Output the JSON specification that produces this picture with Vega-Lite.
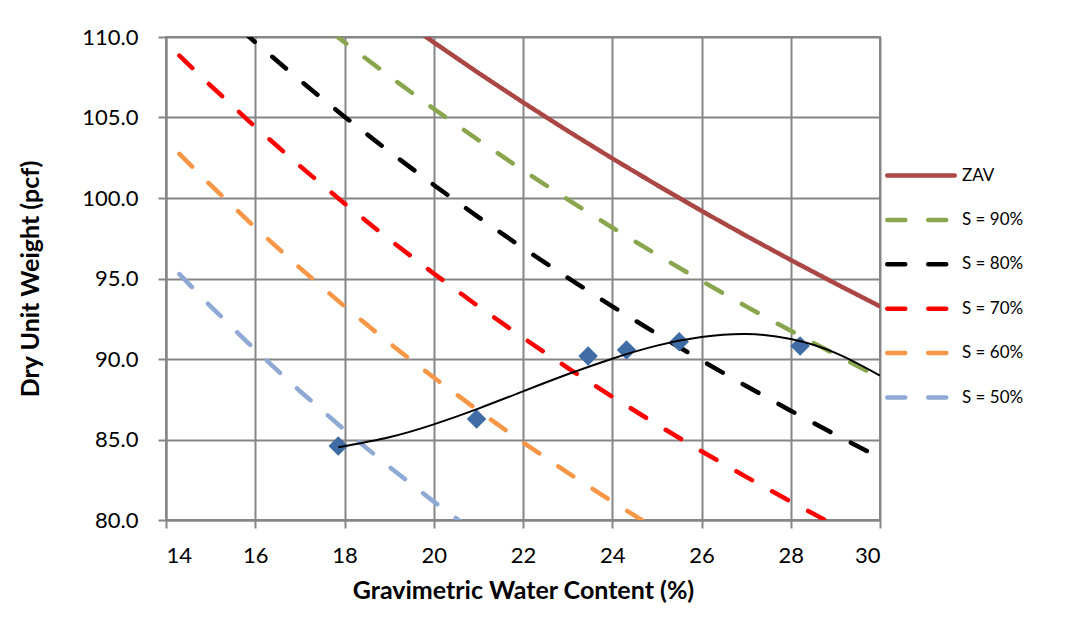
{
  "$schema": "https://vega.github.io/schema/vega-lite/v6.json",
  "width": 714,
  "height": 483,
  "autosize": {"type": "none"},
  "padding": {"left": 166, "top": 37, "right": 210, "bottom": 122},
  "background": "white",
  "datasets": {
    "lines": [
      {"s": "ZAV", "w": 19, "gd": 111.63}, {"s": "ZAV", "w": 20, "gd": 109.67}, {"s": "ZAV", "w": 21, "gd": 107.77}, {"s": "ZAV", "w": 22, "gd": 105.94}, {"s": "ZAV", "w": 23, "gd": 104.17}, {"s": "ZAV", "w": 24, "gd": 102.46}, {"s": "ZAV", "w": 25, "gd": 100.81}, {"s": "ZAV", "w": 26, "gd": 99.2}, {"s": "ZAV", "w": 27, "gd": 97.65}, {"s": "ZAV", "w": 28, "gd": 96.15}, {"s": "ZAV", "w": 29, "gd": 94.69}, {"s": "ZAV", "w": 30, "gd": 93.27},
      {"s": "S = 90%", "w": 17, "gd": 111.85}, {"s": "S = 90%", "w": 18, "gd": 109.67}, {"s": "S = 90%", "w": 19, "gd": 107.57}, {"s": "S = 90%", "w": 20, "gd": 105.54}, {"s": "S = 90%", "w": 21, "gd": 103.6}, {"s": "S = 90%", "w": 22, "gd": 101.72}, {"s": "S = 90%", "w": 23, "gd": 99.91}, {"s": "S = 90%", "w": 24, "gd": 98.16}, {"s": "S = 90%", "w": 25, "gd": 96.48}, {"s": "S = 90%", "w": 26, "gd": 94.85}, {"s": "S = 90%", "w": 27, "gd": 93.27}, {"s": "S = 90%", "w": 28, "gd": 91.75}, {"s": "S = 90%", "w": 29, "gd": 90.28}, {"s": "S = 90%", "w": 30, "gd": 88.85},
      {"s": "S = 80%", "w": 15, "gd": 112.13}, {"s": "S = 80%", "w": 16, "gd": 109.67}, {"s": "S = 80%", "w": 17, "gd": 107.31}, {"s": "S = 80%", "w": 18, "gd": 105.05}, {"s": "S = 80%", "w": 19, "gd": 102.89}, {"s": "S = 80%", "w": 20, "gd": 100.81}, {"s": "S = 80%", "w": 21, "gd": 98.81}, {"s": "S = 80%", "w": 22, "gd": 96.89}, {"s": "S = 80%", "w": 23, "gd": 95.05}, {"s": "S = 80%", "w": 24, "gd": 93.27}, {"s": "S = 80%", "w": 25, "gd": 91.56}, {"s": "S = 80%", "w": 26, "gd": 89.91}, {"s": "S = 80%", "w": 27, "gd": 88.32}, {"s": "S = 80%", "w": 28, "gd": 86.79}, {"s": "S = 80%", "w": 29, "gd": 85.3}, {"s": "S = 80%", "w": 30, "gd": 83.87},
      {"s": "S = 70%", "w": 14.3, "gd": 108.85}, {"s": "S = 70%", "w": 15, "gd": 106.98}, {"s": "S = 70%", "w": 16, "gd": 104.42}, {"s": "S = 70%", "w": 17, "gd": 101.99}, {"s": "S = 70%", "w": 18, "gd": 99.66}, {"s": "S = 70%", "w": 19, "gd": 97.43}, {"s": "S = 70%", "w": 20, "gd": 95.31}, {"s": "S = 70%", "w": 21, "gd": 93.27}, {"s": "S = 70%", "w": 22, "gd": 91.32}, {"s": "S = 70%", "w": 23, "gd": 89.45}, {"s": "S = 70%", "w": 24, "gd": 87.66}, {"s": "S = 70%", "w": 25, "gd": 85.93}, {"s": "S = 70%", "w": 26, "gd": 84.27}, {"s": "S = 70%", "w": 27, "gd": 82.68}, {"s": "S = 70%", "w": 28, "gd": 81.14}, {"s": "S = 70%", "w": 29, "gd": 79.66}, {"s": "S = 70%", "w": 30, "gd": 78.24},
      {"s": "S = 60%", "w": 14.3, "gd": 102.74}, {"s": "S = 60%", "w": 15, "gd": 100.81}, {"s": "S = 60%", "w": 16, "gd": 98.16}, {"s": "S = 60%", "w": 17, "gd": 95.66}, {"s": "S = 60%", "w": 18, "gd": 93.27}, {"s": "S = 60%", "w": 19, "gd": 91.0}, {"s": "S = 60%", "w": 20, "gd": 88.85}, {"s": "S = 60%", "w": 21, "gd": 86.79}, {"s": "S = 60%", "w": 22, "gd": 84.82}, {"s": "S = 60%", "w": 23, "gd": 82.94}, {"s": "S = 60%", "w": 24, "gd": 81.14}, {"s": "S = 60%", "w": 25, "gd": 79.42}, {"s": "S = 60%", "w": 26, "gd": 77.77},
      {"s": "S = 50%", "w": 14.3, "gd": 95.27}, {"s": "S = 50%", "w": 15, "gd": 93.27}, {"s": "S = 50%", "w": 16, "gd": 90.57}, {"s": "S = 50%", "w": 17, "gd": 88.01}, {"s": "S = 50%", "w": 18, "gd": 85.6}, {"s": "S = 50%", "w": 19, "gd": 83.31}, {"s": "S = 50%", "w": 20, "gd": 81.14}, {"s": "S = 50%", "w": 21, "gd": 79.09}, {"s": "S = 50%", "w": 22, "gd": 77.13}
    ],
    "points": [
      {"w": 17.86, "gd": 84.6}, {"w": 20.96, "gd": 86.27}, {"w": 23.46, "gd": 90.19}, {"w": 24.32, "gd": 90.56}, {"w": 25.5, "gd": 91.07}, {"w": 28.21, "gd": 90.81}
    ],
    "trend": [
      {"w": 17.86, "gd": 84.52}, {"w": 19, "gd": 85.14}, {"w": 20, "gd": 85.94}, {"w": 21, "gd": 86.92}, {"w": 22, "gd": 87.99}, {"w": 23, "gd": 89.05}, {"w": 24, "gd": 90.02}, {"w": 25, "gd": 90.83}, {"w": 26, "gd": 91.36}, {"w": 27, "gd": 91.55}, {"w": 28, "gd": 91.24}, {"w": 29, "gd": 90.38}, {"w": 30, "gd": 88.97}
    ]
  },
  "encoding": {
    "x": {
      "field": "w", "type": "quantitative",
      "scale": {"domain": [14, 30], "nice": false, "zero": false},
      "axis": {"values": [14, 16, 18, 20, 22, 24, 26, 28, 30], "title": "Gravimetric Water Content (%)", "titlePadding": 12, "labelPadding": 17}
    },
    "y": {
      "field": "gd", "type": "quantitative",
      "scale": {"domain": [80, 110], "nice": false, "zero": false},
      "axis": {"values": [80, 85, 90, 95, 100, 105, 110], "format": ".1f", "title": "Dry Unit Weight (pcf)", "titlePadding": 38, "labelPadding": 20}
    }
  },
  "layer": [
    {
      "data": {"name": "lines"},
      "mark": {"type": "line", "clip": true, "strokeWidth": 4.5, "strokeCap": "round"},
      "encoding": {
        "color": {
          "field": "s", "type": "nominal",
          "scale": {"domain": ["ZAV", "S = 90%", "S = 80%", "S = 70%", "S = 60%", "S = 50%"], "range": ["#AA4643", "#89A54E", "#000000", "#FF0000", "#F79646", "#8EA9D3"]},
          "legend": {"title": null, "symbolType": "M-3,0H3", "symbolSize": 506, "symbolStrokeWidth": 4.5, "labelOffset": 27.5, "rowPadding": 21.4, "legendX": 741.5, "legendY": 125, "encode": {"symbols": {"update": {"strokeCap": {"value": "round"}}}}}
        },
        "strokeDash": {
          "field": "s", "type": "nominal",
          "scale": {"domain": ["ZAV", "S = 90%", "S = 80%", "S = 70%", "S = 60%", "S = 50%"], "range": [[1, 0], [18, 23], [18, 23], [18, 23], [18, 23], [18, 23]]},
          "legend": {"title": null, "symbolType": "M-3,0H3", "symbolSize": 506, "symbolStrokeWidth": 4.5, "labelOffset": 27.5, "rowPadding": 21.4, "legendX": 741.5, "legendY": 125, "encode": {"symbols": {"update": {"strokeCap": {"value": "round"}}}}}
        }
      }
    },
    {
      "data": {"name": "points"},
      "mark": {"type": "point", "shape": "diamond", "filled": true, "size": 380, "color": "#3F6CA5", "opacity": 1}
    },
    {
      "data": {"name": "trend"},
      "mark": {"type": "line", "color": "#000000", "strokeWidth": 2, "interpolate": "natural", "clip": true}
    }
  ],
  "config": {
    "font": "Lato",
    "view": {"stroke": "#868686", "strokeWidth": 2},
    "axis": {
      "gridColor": "#868686", "gridWidth": 2, "gridOpacity": 1,
      "domainColor": "#868686", "domainWidth": 2,
      "tickColor": "#868686", "tickWidth": 2, "tickSize": 8,
      "labelFont": "Lato", "labelFontSize": 22, "labelColor": "#000000",
      "titleFont": "Lato", "titleFontSize": 25, "titleFontWeight": "bold", "titleColor": "#000000"
    },
    "legend": {
      "orient": "none",
      "labelFont": "Lato", "labelFontSize": 17, "labelColor": "#000000",
      "padding": 0
    }
  }
}
